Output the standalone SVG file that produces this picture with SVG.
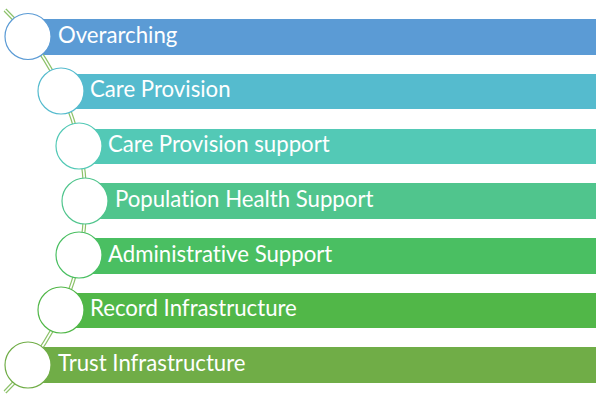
<svg xmlns="http://www.w3.org/2000/svg" width="602" height="401" viewBox="0 0 602 401">
<style>
.lbl{font-family:"Lato","Liberation Sans",sans-serif;font-size:22.2px;fill:#ffffff;font-variant-ligatures:none;font-feature-settings:"liga" 0}
.c{fill:#ffffff;stroke-width:1.2}
</style>
<rect width="602" height="401" fill="#ffffff"/>
<g id="bars">
<rect x="28" y="19" width="568" height="36" fill="#5B9BD5"/>
<rect x="61" y="74" width="535" height="35" fill="#55BBCE"/>
<rect x="79" y="129" width="517" height="35" fill="#53C9B6"/>
<rect x="85" y="183" width="511" height="36" fill="#50C58D"/>
<rect x="79" y="238" width="517" height="36" fill="#4ABF62"/>
<rect x="61" y="293" width="535" height="35" fill="#51B748"/>
<rect x="28" y="347" width="568" height="36" fill="#70AD47"/>
</g>
<g id="connectors">
<path d="M5,10 A267.3,267.3 0 0 1 5,392" fill="none" stroke="#8DC26A" stroke-width="4"/>
<path d="M5,10 A267.3,267.3 0 0 1 5,392" fill="none" stroke="#ffffff" stroke-width="1.6"/>
</g>
<g id="node1"><circle class="c" cx="28" cy="36.5" r="23" stroke="#5B9BD5"/><text class="lbl" x="58" y="42.5">Overarching</text></g>
<g id="node2"><circle class="c" cx="61" cy="91" r="23" stroke="#55BBCE"/><text class="lbl" x="90" y="97">Care Provision</text></g>
<g id="node3"><circle class="c" cx="79" cy="146" r="23" stroke="#53C9B6"/><text class="lbl" x="108" y="152">Care Provision support</text></g>
<g id="node4"><circle class="c" cx="85" cy="201" r="23" stroke="#50C58D"/><text class="lbl" x="115" y="207">Population Health Support</text></g>
<g id="node5"><circle class="c" cx="79" cy="255" r="23" stroke="#4ABF62"/><text class="lbl" x="108" y="261.5">Administrative Support</text></g>
<g id="node6"><circle class="c" cx="61" cy="310" r="23" stroke="#51B748"/><text class="lbl" x="90" y="316">Record Infrastructure</text></g>
<g id="node7"><circle class="c" cx="28" cy="365" r="23" stroke="#70AD47"/><text class="lbl" x="58" y="371">Trust Infrastructure</text></g>
</svg>
